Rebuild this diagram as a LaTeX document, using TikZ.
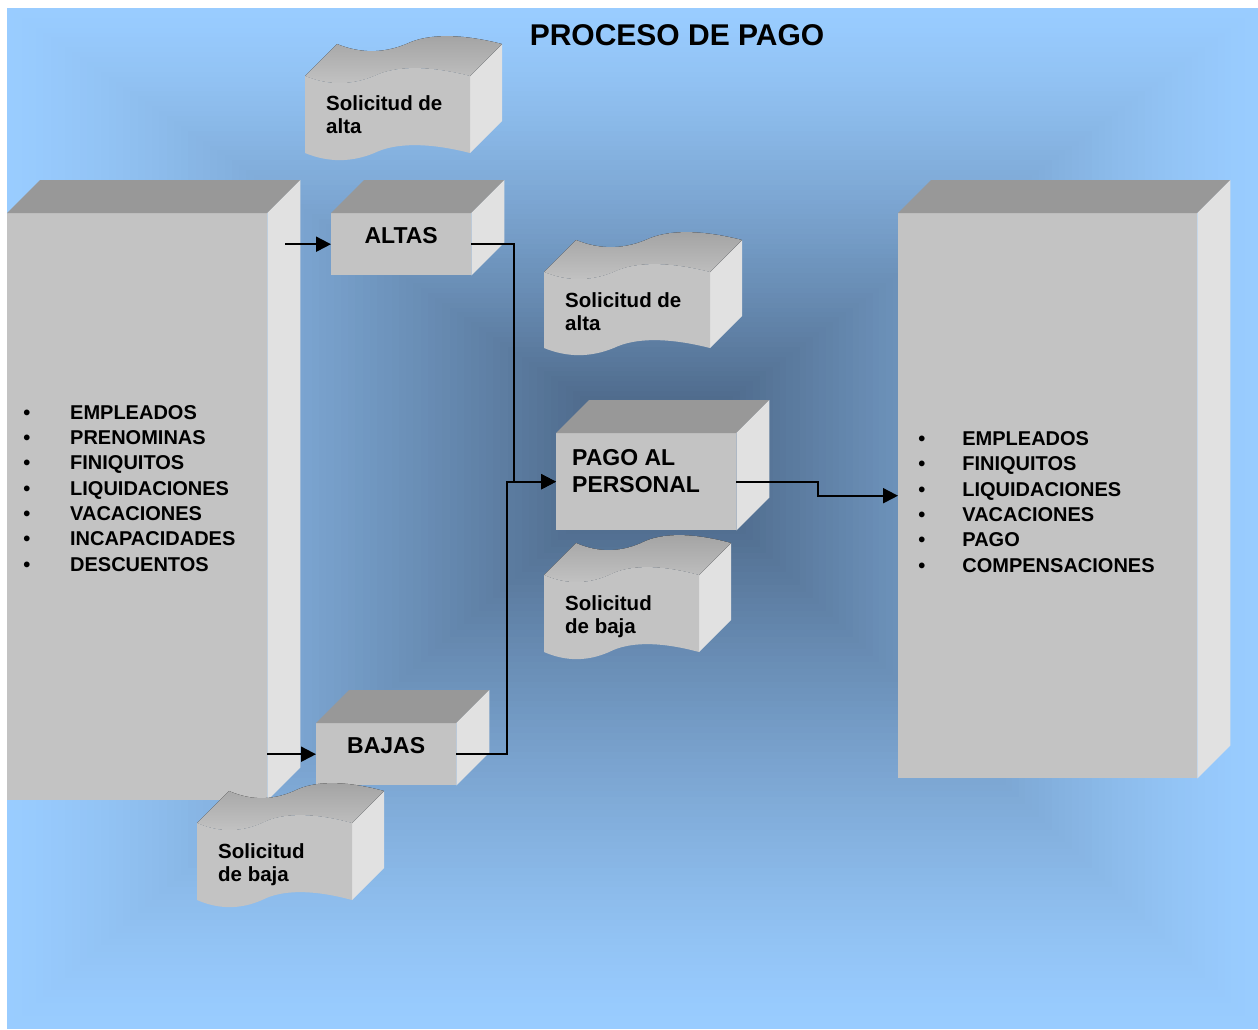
\documentclass[tikz,border=0pt]{standalone}
\usepackage{fontspec}
\setmainfont{Liberation Sans}
\usetikzlibrary{arrows.meta}
\definecolor{fondoBorde}{RGB}{153,204,255}
\definecolor{fondoCentro}{RGB}{66,90,120}
\definecolor{caraFrente}{RGB}{195,195,195}
\definecolor{caraArriba}{RGB}{152,152,152}
\definecolor{caraLado}{RGB}{225,225,225}
\tikzset{
	frente/.style={fill=caraFrente, inner sep=0pt, anchor=north west},
	titulo/.style={font=\fontsize{30}{34}\selectfont\bfseries, inner sep=0pt},
	rotulo/.style={font=\fontsize{23}{27}\selectfont\bfseries, inner sep=0pt, align=left},
	lista/.style={font=\fontsize{20}{25.3}\selectfont\bfseries, inner sep=0pt, align=left},
	nota/.style={font=\fontsize{20.5}{23}\selectfont\bfseries, inner sep=0pt, align=left},
	flecha/.style={line width=2pt, -{Triangle[length=15pt,width=15pt]}},
}
\newcommand{\punto}[1]{\makebox[#1][l]{\textbullet}}
% caras de arriba y del lado de una caja
\newcommand{\caja}[1]{%
	\fill[caraArriba] (#1.north west) -- ++(33,-33) -- ([shift={(33,-33)}]#1.north east) -- (#1.north east) -- cycle;
	\fill[caraLado] (#1.north east) -- ++(33,-33) -- ([shift={(33,-33)}]#1.south east) -- (#1.south east) -- cycle;
}
% hoja ondulada: x izq, arriba, x der, abajo
\newcommand{\hoja}[4]{%
	\pgfmathsetmacro{\xb}{#1+0.14*(#3-#1)}
	\pgfmathsetmacro{\xc}{#1+0.28*(#3-#1)}
	\pgfmathsetmacro{\xm}{#1+0.42*(#3-#1)}
	\pgfmathsetmacro{\xd}{#1+0.55*(#3-#1)}
	\pgfmathsetmacro{\xe}{#1+0.75*(#3-#1)}
	\fill[caraLado] (#3,#2) -- ++(32,-32) -- ++(0,#4-#2) -- (#3,#4) -- cycle;
	\fill[top color=caraArriba!90!white, bottom color=caraFrente]
		(#1,#2) .. controls (\xb,#2+9.5) and (\xc,#2+9.5) .. (\xm,#2)
		.. controls (\xd,#2-10.5) and (\xe,#2-10.5) .. (#3,#2) -- ++(32,-32)
		.. controls (\xe+32,#2-42.5) and (\xd+32,#2-42.5) .. (\xm+32,#2-32)
		.. controls (\xc+32,#2-22.5) and (\xb+32,#2-22.5) .. (#1+32,#2-32) -- cycle;
	\fill[caraFrente]
		(#1,#2) .. controls (\xb,#2+9.5) and (\xc,#2+9.5) .. (\xm,#2)
		.. controls (\xd,#2-10.5) and (\xe,#2-10.5) .. (#3,#2) -- (#3,#4)
		.. controls (\xe,#4-10.5) and (\xd,#4-10.5) .. (\xm,#4)
		.. controls (\xc,#4+9.5) and (\xb,#4+9.5) .. (#1,#4) -- cycle;
}

\begin{document}
\begin{tikzpicture}[x=1pt, y=-1pt]
	\useasboundingbox (0,0) rectangle (1258,1029);
	\fill[white] (0,0) rectangle (1258,1029);
	% fondo degradado hacia el centro
	\fill[fondoBorde] (7,8) rectangle (1258,1029);
	\foreach \i in {1,...,89}{
		\pgfmathsetmacro{\fr}{\i/90}
		\pgfmathsetmacro{\pcto}{100*pow(\fr,1.3)}
		\fill[fondoCentro!\pcto!fondoBorde] ({7+653*\fr},{8+442*\fr}) rectangle ({1258-598*\fr},{1029-579*\fr});
	}

	% cajas
	\node[frente, minimum width=260pt, minimum height=587pt] (izq) at (7,213) {};
	\caja{izq}
	\node[frente, minimum width=140pt, minimum height=62pt] (altas) at (331,213) {};
	\caja{altas}
	\node[frente, minimum width=140pt, minimum height=62pt] (bajas) at (316,723) {};
	\caja{bajas}
	\node[frente, minimum width=180pt, minimum height=97pt] (pago) at (556,433) {};
	\caja{pago}
	\node[frente, minimum width=299pt, minimum height=565pt] (der) at (898,213) {};
	\caja{der}

	% flechas
	\draw[flecha] ([xshift=18pt]izq.east |- altas.west) -- (altas.west);
	\draw[flecha] (izq.east |- bajas.west) -- (bajas.west);
	\draw[flecha] (altas.east) -- ++(43,0) |- (pago.west);
	\draw[flecha] (bajas.east) -- ++(51,0) |- (pago.west);
	\draw[flecha] (pago.east) -- ++(82,0) |- (der.west);

	% solicitudes
	\hoja{305}{76}{470}{153}
	\hoja{544}{272}{710}{348}
	\hoja{544}{575}{699}{652}
	\hoja{197}{823}{352}{900}

	% textos (base = ultima linea)
	\node[titulo] (titulo) at (677,35) {PROCESO DE PAGO};
	\node[rotulo] (altasT) at ([yshift=8.5pt]altas.center) {ALTAS};
	\node[rotulo] (bajasT) at ([yshift=8.5pt]bajas.center) {BAJAS};
	\node[rotulo, anchor=base west] (pagoT) at (572,492) {PAGO AL\\PERSONAL};
	\node[nota, anchor=base west] (alta1) at (326,133) {Solicitud de\\alta};
	\node[nota, anchor=base west] (alta2) at (565,330) {Solicitud de\\alta};
	\node[nota, anchor=base west] (baja1) at (565,633) {Solicitud\\de baja};
	\node[nota, anchor=base west] (baja2) at (218,881) {Solicitud\\de baja};
	\node[lista, anchor=base west] (listaIzq) at (23.2,571) {%
		\punto{46.8pt}EMPLEADOS\\
		\punto{46.8pt}PRENOMINAS\\
		\punto{46.8pt}FINIQUITOS\\
		\punto{46.8pt}LIQUIDACIONES\\
		\punto{46.8pt}VACACIONES\\
		\punto{46.8pt}INCAPACIDADES\\
		\punto{46.8pt}DESCUENTOS};
	\node[lista, anchor=base west] (listaDer) at (918.2,572) {%
		\punto{44pt}EMPLEADOS\\
		\punto{44pt}FINIQUITOS\\
		\punto{44pt}LIQUIDACIONES\\
		\punto{44pt}VACACIONES\\
		\punto{44pt}PAGO\\
		\punto{44pt}COMPENSACIONES};
\end{tikzpicture}
\end{document}
